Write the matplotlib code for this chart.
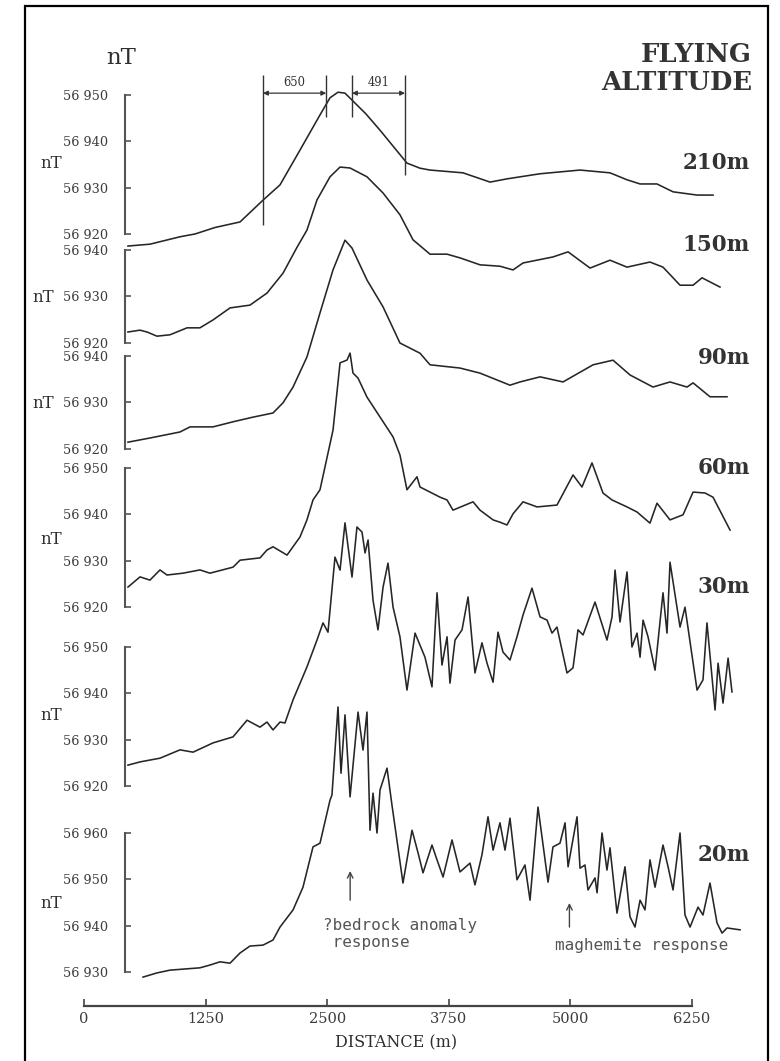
import matplotlib
matplotlib.use("Agg")
import matplotlib.pyplot as plt
from matplotlib.patches import Rectangle

plt.rcParams["font.family"] = ["DejaVu Serif"]

# ==========================
# Data
# ==========================
altitudes = ["210m", "150m", "90m", "60m", "30m", "20m"]

# distance along line (m) and total field (nT) for each flying altitude
dist_210 = [452, 678, 987, 1141, 1347, 1604, 1840, 2015, 2220, 2426, 2529, 2611, 2683, 2755, 2899,
            3043, 3320, 3454, 3557, 3896, 4174, 4348, 4688, 5099, 5407, 5582, 5716, 5890, 6055,
            6302, 6466]
nt_210 = [56917.4, 56917.8, 56919.4, 56920.0, 56921.4, 56922.6, 56927.3, 56930.6, 56938.1, 56945.7,
          56949.4, 56950.6, 56950.4, 56948.9, 56945.9, 56942.4, 56935.3, 56934.2, 56933.8, 56933.2,
          56931.2, 56931.9, 56933.0, 56933.8, 56933.2, 56931.7, 56930.8, 56930.8, 56929.1,
          56928.4, 56928.4]

dist_150 = [452, 576, 648, 750, 884, 1059, 1192, 1326, 1501, 1706, 1881, 2046, 2190, 2292, 2395,
            2529, 2632, 2735, 2909, 3074, 3248, 3382, 3557, 3732, 3865, 4071, 4276, 4410, 4513, 4821,
            4976, 5202, 5407, 5582, 5818, 5952, 6127, 6261, 6353, 6538]
nt_150 = [56922.3, 56922.7, 56922.3, 56921.4, 56921.7, 56923.2, 56923.2, 56924.9, 56927.5, 56928.1,
          56930.7, 56935.0, 56940.6, 56944.3, 56950.8, 56955.8, 56957.9, 56957.7, 56955.8, 56952.3,
          56947.6, 56942.2, 56939.1, 56939.1, 56938.3, 56936.8, 56936.5, 56935.7, 56937.2, 56938.5,
          56939.6, 56936.1, 56937.8, 56936.3, 56937.4, 56936.3, 56932.4, 56932.4, 56934.0, 56932.0]

dist_90 = [452, 678, 987, 1090, 1326, 1532, 1737, 1943, 2046, 2149, 2292, 2426, 2560, 2683, 2755,
           2909, 3074, 3248, 3454, 3557, 3865, 4071, 4379, 4482, 4688, 4924, 5233, 5438, 5613, 5849,
           6024, 6199, 6261, 6435, 6610]
nt_90 = [56921.4, 56922.3, 56923.6, 56924.7, 56924.7, 56925.8, 56926.8, 56927.7, 56929.9, 56933.3,
         56939.8, 56949.3, 56958.6, 56965.0, 56963.3, 56956.4, 56950.6, 56942.8, 56940.6, 56938.1,
         56937.4, 56936.3, 56933.7, 56934.4, 56935.5, 56934.4, 56938.1, 56939.1, 56935.9, 56933.3,
         56934.4, 56933.3, 56934.2, 56931.2, 56931.2]

dist_60 = [452, 576, 678, 781, 853, 1018, 1192, 1295, 1532, 1604, 1809, 1881, 1943, 2087, 2220,
           2292, 2354, 2426, 2560, 2632, 2704, 2735, 2765, 2817, 2909, 3043, 3177, 3248, 3320, 3423,
           3454, 3660, 3732, 3793, 3999, 4071, 4205, 4276, 4348, 4410, 4513, 4657, 4862, 5027, 5119,
           5222, 5335, 5428, 5582, 5685, 5818, 5890, 6024, 6158, 6261, 6384, 6466, 6641]
nt_60 = [56924.3, 56926.5, 56925.8, 56928.0, 56926.9, 56927.3, 56928.0, 56927.3, 56928.6, 56930.1,
         56930.6, 56932.3, 56933.0, 56931.2, 56935.1, 56938.8, 56943.1, 56945.3, 56958.2, 56972.7,
         56973.3, 56974.8, 56970.5, 56969.4, 56965.3, 56961.0, 56956.7, 56952.8, 56945.3, 56948.1,
         56945.9, 56943.7, 56943.1, 56940.9, 56942.7, 56940.9, 56938.8, 56938.3, 56937.7, 56940.1,
         56942.7, 56941.6, 56942.0, 56948.5, 56945.9, 56951.1, 56944.6, 56943.1, 56941.6, 56940.5,
         56938.1, 56942.4, 56938.8, 56939.9, 56944.8, 56944.6, 56943.7, 56936.6]

dist_30 = [452, 576, 781, 987, 1121, 1326, 1532, 1676, 1809, 1881, 1943, 2015, 2066, 2149, 2292,
           2395, 2457, 2508, 2580, 2632, 2683, 2755, 2806, 2858, 2889, 2920, 2971, 3022, 3074, 3125,
           3177, 3248, 3320, 3403, 3505, 3577, 3629, 3680, 3732, 3762, 3814, 3886, 3948, 4019, 4091,
           4143, 4205, 4256, 4307, 4379, 4451, 4513, 4605, 4688, 4760, 4811, 4862, 4965, 5027, 5078,
           5130, 5253, 5376, 5428, 5459, 5510, 5582, 5633, 5685, 5716, 5747, 5798, 5870, 5952, 5993,
           6024, 6127, 6178, 6302, 6363, 6404, 6487, 6518, 6569, 6621, 6661]
nt_30 = [56924.5, 56925.2, 56926.0, 56927.8, 56927.3, 56929.3, 56930.6, 56934.2, 56932.7, 56933.8,
         56932.1, 56933.8, 56933.6, 56938.6, 56945.7, 56951.5, 56955.2, 56953.2, 56969.4, 56966.6,
         56976.8, 56965.1, 56975.9, 56974.8, 56970.3, 56973.1, 56960.1, 56953.7, 56962.9, 56968.1,
         56958.6, 56952.2, 56940.7, 56953.0, 56947.8, 56941.4, 56961.7, 56946.1, 56952.2, 56942.2,
         56951.5, 56953.7, 56960.8, 56944.4, 56950.9, 56946.5, 56942.4, 56953.2, 56948.9, 56947.2,
         56952.2, 56956.9, 56962.7, 56956.5, 56955.8, 56953.0, 56954.3, 56944.4, 56945.5, 56953.7,
         56952.6, 56959.7, 56951.5, 56956.5, 56966.6, 56955.4, 56966.2, 56950.0, 56953.0, 56947.8,
         56955.8, 56952.2, 56945.0, 56961.7, 56953.0, 56968.3, 56954.3, 56958.6, 56940.7, 56942.9,
         56955.2, 56936.4, 56946.5, 56937.9, 56947.6, 56940.3]

dist_20 = [607, 750, 884, 1192, 1295, 1398, 1501, 1604, 1706, 1840, 1943, 2015, 2149, 2251, 2354,
           2426, 2529, 2549, 2611, 2642, 2683, 2735, 2817, 2868, 2909, 2940, 2971, 3012, 3043, 3115,
           3166, 3279, 3372, 3434, 3485, 3577, 3629, 3691, 3783, 3865, 3968, 4019, 4091, 4153, 4205,
           4276, 4328, 4379, 4451, 4533, 4585, 4667, 4770, 4821, 4893, 4945, 4976, 5068, 5099, 5150,
           5181, 5253, 5274, 5325, 5376, 5407, 5479, 5561, 5613, 5664, 5716, 5767, 5818, 5870, 5952,
           6004, 6055, 6127, 6178, 6230, 6312, 6363, 6435, 6507, 6559, 6610, 6744]
nt_20 = [56928.9, 56929.8, 56930.4, 56930.9, 56931.5, 56932.2, 56931.9, 56934.1, 56935.6, 56935.8,
         56936.9, 56939.7, 56943.4, 56948.3, 56957.0, 56957.8, 56967.1, 56968.2, 56987.2, 56972.9,
         56985.5, 56967.8, 56986.1, 56977.9, 56986.1, 56960.6, 56968.6, 56960.0, 56969.3, 56974.0,
         56966.0, 56949.2, 56960.6, 56955.7, 56951.4, 56957.4, 56954.2, 56950.5, 56958.5, 56951.6,
         56953.5, 56948.8, 56955.3, 56963.5, 56956.3, 56962.2, 56956.3, 56963.2, 56949.9, 56953.1,
         56945.5, 56965.6, 56949.4, 56957.0, 56957.8, 56962.2, 56952.7, 56963.5, 56952.4, 56953.1,
         56947.7, 56950.3, 56947.1, 56960.0, 56952.0, 56956.8, 56942.7, 56952.7, 56941.9, 56939.7,
         56945.5, 56943.4, 56954.2, 56948.3, 56957.4, 56952.7, 56947.7, 56960.0, 56942.3, 56939.7,
         56944.0, 56942.3, 56949.2, 56940.6, 56938.4, 56939.5, 56939.1]

# nT scale bar ticks of each profile
ticks_210 = [56920, 56930, 56940, 56950]
ticks_150 = [56920, 56930, 56940]
ticks_90 = [56920, 56930, 56940]
ticks_60 = [56920, 56930, 56940, 56950]
ticks_30 = [56920, 56930, 56940, 56950]
ticks_20 = [56930, 56940, 56950, 56960]

distance_ticks = [0, 1250, 2500, 3750, 5000, 6250]

# half-width markers on the 210m profile
dim_x = [1840, 2490, 2755, 3300]
dim_low = [56921.9, 56945.3, 56945.3, 56932.7]
dim_top = 56954.3
dim_arrow_nt = 56950.4
dim_labels = ["650", "491"]

# annotations on the 20m profile
bedrock_x = 2736
maghemite_x = 4990

profiles = [(dist_210, nt_210, ticks_210), (dist_150, nt_150, ticks_150),
            (dist_90, nt_90, ticks_90), (dist_60, nt_60, ticks_60),
            (dist_30, nt_30, ticks_30), (dist_20, nt_20, ticks_20)]

# ==========================
# Layout (pixels)
# ==========================
W, H, DPI = 780, 1061, 100
X0_PX = 84                 # column of distance 0
PX_PER_M = 608 / 6250
PX_PER_NT = 4.633
SCALE_X = 421              # distance where the nT bars stand
top_tick_row = [95, 250, 356, 468, 647, 833]
nt_label_xy = [(51, 163), (43, 297), (43, 404), (51, 540), (51, 715), (51, 903)]
alt_label_row = [163, 245, 358, 468, 587, 855]

CURVE = "#262626"
GREY = "#3c3c3c"


def fx(px):
    return px / W


def fy(py):
    return 1 - py / H


fig = plt.figure(figsize=(W / DPI, H / DPI), dpi=DPI)
fig.patch.set_facecolor("white")

axes = []
for (dist, nt, ticks), row in zip(profiles, top_tick_row):
    ax = fig.add_axes([0, 0, 1, 1])
    top = max(ticks)
    ax.set_xlim(-X0_PX / PX_PER_M, (W - X0_PX) / PX_PER_M)
    ax.set_ylim(top - (H - row) / PX_PER_NT, top + row / PX_PER_NT)
    ax.patch.set_visible(False)
    for s in ["top", "right", "bottom"]:
        ax.spines[s].set_visible(False)
    ax.spines["left"].set_position(("data", SCALE_X))
    ax.spines["left"].set_bounds(min(ticks), max(ticks))
    ax.spines["left"].set_color("#555555")
    ax.spines["left"].set_linewidth(1.5)
    ax.set_xticks([])
    ax.set_yticks(ticks)
    ax.set_yticklabels([f"{t // 1000} {t % 1000:03d}" for t in ticks])
    ax.tick_params(axis="y", direction="in", length=4.5, width=1.2, color="#555555",
                   pad=12, labelsize=9.3, labelcolor=GREY)
    ax.plot(dist, nt, color=CURVE, lw=1.15, clip_on=False)
    axes.append(ax)

# half-width markers
ax = axes[0]
ax.vlines(dim_x, dim_low, dim_top, color="#333333", lw=1.0)
for i, lab in enumerate(dim_labels):
    x1, x2 = dim_x[2 * i], dim_x[2 * i + 1]
    ax.annotate("", xy=(x1, dim_arrow_nt), xytext=(x2, dim_arrow_nt),
                arrowprops=dict(arrowstyle="<|-|>", color="#333333", lw=0.9,
                                mutation_scale=7, shrinkA=0, shrinkB=0))
    ax.text((x1 + x2) / 2, dim_arrow_nt + 2.2, lab, ha="center", va="center",
            fontsize=8.3, color="#333333")

# annotations on the 20m profile
ax = axes[5]
ax.annotate("", xy=(bedrock_x, 56952.4), xytext=(bedrock_x, 56944.9),
            arrowprops=dict(arrowstyle="->", color="#444444", lw=1.0))
ax.text(2457, 56941.7, "?bedrock anomaly\n response", ha="left", va="top",
        fontsize=11.5, family="DejaVu Sans Mono", color="#555555", linespacing=1.15)
ax.annotate("", xy=(maghemite_x, 56945.5), xytext=(maghemite_x, 56939.1),
            arrowprops=dict(arrowstyle="->", color="#444444", lw=1.0))
ax.text(4842, 56935.8, "maghemite response", ha="left", va="center",
        fontsize=11.5, family="DejaVu Sans Mono", color="#555555")

# distance axis
axd = fig.add_axes([fx(X0_PX), fy(1006), 608 / W, 0.0001])
axd.set_xlim(0, 6250)
axd.patch.set_visible(False)
for s in ["top", "right", "left"]:
    axd.spines[s].set_visible(False)
axd.spines["bottom"].set_linewidth(1.6)
axd.spines["bottom"].set_color("#444444")
axd.set_yticks([])
axd.set_xticks(distance_ticks)
axd.tick_params(axis="x", direction="in", length=5, width=1.2, color="#444444",
                pad=4, labelsize=10.5, labelcolor=GREY)
fig.text(fx(396), fy(1043), "DISTANCE (m)", ha="center", va="center",
         fontsize=11.5, color="#2e2e2e")

# labels
fig.text(fx(121), fy(58), "nT", ha="center", va="center", fontsize=16.5, color="#2e2e2e")
for (x, y) in nt_label_xy:
    fig.text(fx(x), fy(y), "nT", ha="center", va="center", fontsize=12, color="#2e2e2e")
fig.text(fx(752), fy(55), "FLYING", ha="right", va="center", fontsize=18.5,
         fontweight="bold", color="#333333")
fig.text(fx(752), fy(83), "ALTITUDE", ha="right", va="center", fontsize=18.5,
         fontweight="bold", color="#333333")
for lab, row in zip(altitudes, alt_label_row):
    fig.text(fx(750), fy(row), lab, ha="right", va="center", fontsize=15.5,
             fontweight="bold", color="#333333")

# frame (bottom edge runs off the picture, as in the scan)
fig.add_artist(Rectangle((fx(25), fy(1070)), (768 - 25) / W, (1070 - 6) / H,
                         transform=fig.transFigure, fill=False, lw=1.6, ec="black",
                         clip_on=False))

fig.savefig("out.png", dpi=DPI, facecolor="white")
